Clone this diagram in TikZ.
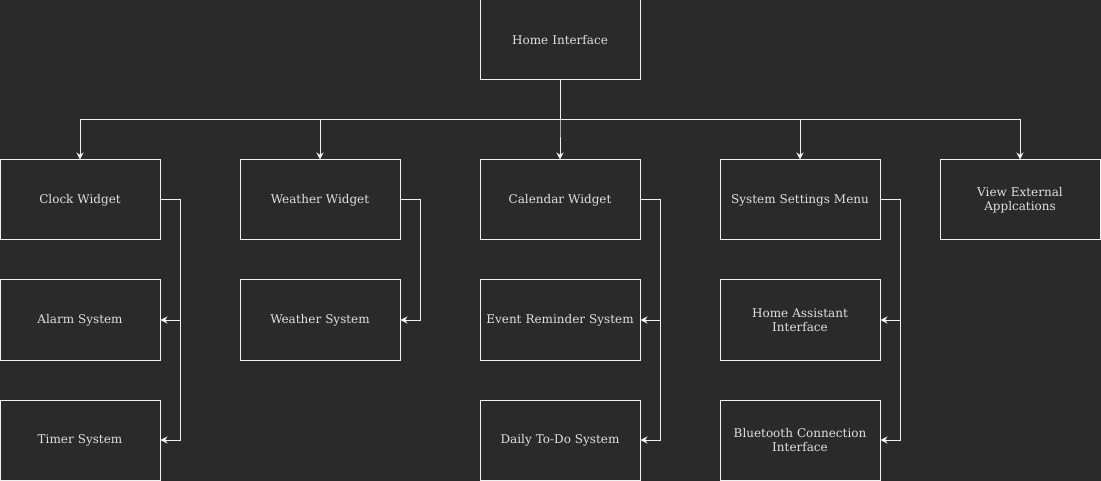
\documentclass[tikz,border=0pt]{standalone}
\usepackage{fontspec}
\setmainfont{DejaVu Serif}
\usetikzlibrary{arrows.meta}
\definecolor{bg}{HTML}{2A2A2A}
\definecolor{ln}{HTML}{F0F0F0}
\definecolor{tx}{HTML}{E0E0E0}
\begin{document}
\begin{tikzpicture}[x=1pt,y=-1pt,
  box/.style={draw=ln, line width=1pt, minimum width=160pt, minimum height=80pt, inner sep=0pt, align=center, text=tx, font=\fontsize{12}{14}\selectfont, text width=150pt},
  conn/.style={draw=ln, line width=1pt, -{Stealth[length=7pt,width=7pt]}}]
\fill[bg] (0,0) rectangle (1101,481);
\useasboundingbox (0,0) rectangle (1101,481);
\node[box] (home) at (560,40) {Home Interface};
\node[box] (clock) at (80,200) {Clock Widget};
\node[box] (weather) at (320,200) {Weather Widget};
\node[box] (cal) at (560,200) {Calendar Widget};
\node[box] (sys) at (800,200) {System Settings Menu};
\node[box] (ext) at (1020,200) {View External\\Applcations};
\node[box] (alarm) at (80,320) {Alarm System};
\node[box] (wsys) at (320,320) {Weather System};
\node[box] (event) at (560,320) {Event Reminder System};
\node[box] (ha) at (800,320) {Home Assistant\\Interface};
\node[box] (timer) at (80,440) {Timer System};
\node[box] (todo) at (560,440) {Daily To-Do System};
\node[box] (bt) at (800,440) {Bluetooth Connection\\Interface};
\coordinate (bus) at (560,120);
\foreach \t in {clock,weather,cal,sys,ext}
  \draw[conn] (home.south) |- (bus) -| (\t.north);
\draw[conn] (clock.east) -- ++(20,0) |- (alarm.east);
\draw[conn] (clock.east) -- ++(20,0) |- (timer.east);
\draw[conn] (weather.east) -- ++(20,0) |- (wsys.east);
\draw[conn] (cal.east) -- ++(20,0) |- (event.east);
\draw[conn] (cal.east) -- ++(20,0) |- (todo.east);
\draw[conn] (sys.east) -- ++(20,0) |- (ha.east);
\draw[conn] (sys.east) -- ++(20,0) |- (bt.east);
\end{tikzpicture}
\end{document}
